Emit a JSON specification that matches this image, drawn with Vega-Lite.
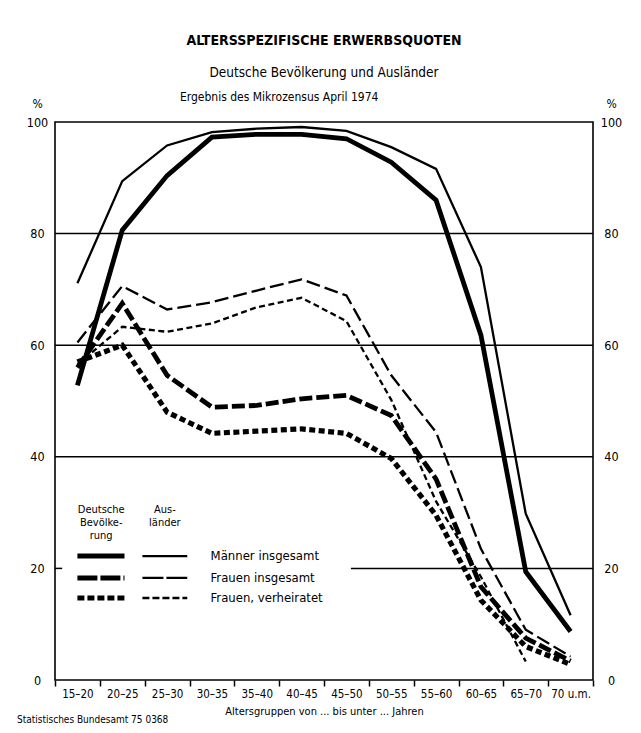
{
  "$schema": "https://vega.github.io/schema/vega-lite/v6.json",
  "autosize": "none",
  "padding": {"left": 55, "top": 122, "right": 48, "bottom": 53},
  "width": 538,
  "height": 558,
  "background": "white",
  "title": {
    "text": "ALTERSSPEZIFISCHE ERWERBSQUOTEN",
    "subtitle": "Deutsche Bevölkerung und Ausländer",
    "fontSize": 14,
    "fontWeight": "bold",
    "subtitleFontSize": 13.5,
    "subtitlePadding": 18,
    "subtitleColor": "black",
    "color": "black",
    "anchor": "middle",
    "frame": "group",
    "offset": 12
  },
  "config": {
    "font": "Liberation Sans Narrow, DejaVu Sans Condensed, sans-serif",
    "view": {"stroke": "black", "strokeWidth": 1.6},
    "axis": {"labelColor": "black", "titleColor": "black"},
    "text": {"color": "black"}
  },
  "datasets": {
    "curves": [
      {"group": "DM", "age": "15–20", "value": 52.8},
      {"group": "DM", "age": "20–25", "value": 80.6},
      {"group": "DM", "age": "25–30", "value": 90.4},
      {"group": "DM", "age": "30–35", "value": 97.3},
      {"group": "DM", "age": "35–40", "value": 97.8},
      {"group": "DM", "age": "40–45", "value": 97.8},
      {"group": "DM", "age": "45–50", "value": 97.0},
      {"group": "DM", "age": "50–55", "value": 92.8},
      {"group": "DM", "age": "55–60", "value": 86.0},
      {"group": "DM", "age": "60–65", "value": 61.8},
      {"group": "DM", "age": "65–70", "value": 19.4},
      {"group": "DM", "age": "70 u.m.", "value": 8.7},
      {"group": "AM", "age": "15–20", "value": 71.1},
      {"group": "AM", "age": "20–25", "value": 89.4},
      {"group": "AM", "age": "25–30", "value": 95.8},
      {"group": "AM", "age": "30–35", "value": 98.2},
      {"group": "AM", "age": "35–40", "value": 98.8},
      {"group": "AM", "age": "40–45", "value": 99.1},
      {"group": "AM", "age": "45–50", "value": 98.4},
      {"group": "AM", "age": "50–55", "value": 95.5},
      {"group": "AM", "age": "55–60", "value": 91.6},
      {"group": "AM", "age": "60–65", "value": 74.0},
      {"group": "AM", "age": "65–70", "value": 29.8},
      {"group": "AM", "age": "70 u.m.", "value": 11.6},
      {"group": "DFi", "age": "15–20", "value": 56.0},
      {"group": "DFi", "age": "20–25", "value": 67.5},
      {"group": "DFi", "age": "25–30", "value": 54.6},
      {"group": "DFi", "age": "30–35", "value": 48.9},
      {"group": "DFi", "age": "35–40", "value": 49.2},
      {"group": "DFi", "age": "40–45", "value": 50.4},
      {"group": "DFi", "age": "45–50", "value": 51.0},
      {"group": "DFi", "age": "50–55", "value": 47.4},
      {"group": "DFi", "age": "55–60", "value": 36.0},
      {"group": "DFi", "age": "60–65", "value": 16.7},
      {"group": "DFi", "age": "65–70", "value": 7.5},
      {"group": "DFi", "age": "70 u.m.", "value": 3.4},
      {"group": "AFi", "age": "15–20", "value": 60.5},
      {"group": "AFi", "age": "20–25", "value": 70.6},
      {"group": "AFi", "age": "25–30", "value": 66.4},
      {"group": "AFi", "age": "30–35", "value": 67.7},
      {"group": "AFi", "age": "35–40", "value": 69.8},
      {"group": "AFi", "age": "40–45", "value": 71.8},
      {"group": "AFi", "age": "45–50", "value": 68.9},
      {"group": "AFi", "age": "50–55", "value": 54.6},
      {"group": "AFi", "age": "55–60", "value": 44.4},
      {"group": "AFi", "age": "60–65", "value": 23.5},
      {"group": "AFi", "age": "65–70", "value": 9.0},
      {"group": "AFi", "age": "70 u.m.", "value": 4.2},
      {"group": "DFv", "age": "15–20", "value": 57.0},
      {"group": "DFv", "age": "20–25", "value": 60.0},
      {"group": "DFv", "age": "25–30", "value": 48.0},
      {"group": "DFv", "age": "30–35", "value": 44.2},
      {"group": "DFv", "age": "35–40", "value": 44.6},
      {"group": "DFv", "age": "40–45", "value": 45.0},
      {"group": "DFv", "age": "45–50", "value": 44.2},
      {"group": "DFv", "age": "50–55", "value": 39.7},
      {"group": "DFv", "age": "55–60", "value": 29.5},
      {"group": "DFv", "age": "60–65", "value": 14.3},
      {"group": "DFv", "age": "65–70", "value": 6.0},
      {"group": "DFv", "age": "70 u.m.", "value": 2.8},
      {"group": "AFv", "age": "15–20", "value": 56.5},
      {"group": "AFv", "age": "20–25", "value": 63.3},
      {"group": "AFv", "age": "25–30", "value": 62.4},
      {"group": "AFv", "age": "30–35", "value": 63.9},
      {"group": "AFv", "age": "35–40", "value": 66.8},
      {"group": "AFv", "age": "40–45", "value": 68.5},
      {"group": "AFv", "age": "45–50", "value": 64.3},
      {"group": "AFv", "age": "50–55", "value": 50.2},
      {"group": "AFv", "age": "55–60", "value": 32.0},
      {"group": "AFv", "age": "60–65", "value": 18.5},
      {"group": "AFv", "age": "65–70", "value": 3.3}
    ]
  },
  "resolve": {"axis": {"x": "independent", "y": "independent"}},
  "layer": [
    {
      "data": {"values": [{"v": 80}, {"v": 60}, {"v": 40}]},
      "mark": {"type": "rule", "color": "black", "strokeWidth": 1.5},
      "encoding": {
        "y": {
          "field": "v", "type": "quantitative",
          "scale": {"domain": [0, 100], "nice": false},
          "axis": {
            "orient": "left", "values": [0, 20, 40, 60, 80, 100],
            "ticks": false, "domain": false, "grid": false,
            "labelAlign": "center", "labelPadding": 18, "labelFontSize": 12.5,
            "title": "%", "titleAngle": 0, "titleX": -18, "titleY": -19,
            "titleAlign": "center", "titleBaseline": "middle",
            "titleFontWeight": "normal", "titleFontSize": 12
          }
        }
      }
    },
    {
      "data": {"values": [{"v": 20, "a": "45–50", "b": "70 u.m."}]},
      "mark": {"type": "rule", "color": "black", "strokeWidth": 1.5},
      "encoding": {
        "x": {"field": "a", "type": "nominal", "bandPosition": 0.6,
              "scale": {"type": "band", "domain": ["15–20","20–25","25–30","30–35","35–40","40–45","45–50","50–55","55–60","60–65","65–70","70 u.m."], "paddingInner": 0, "paddingOuter": 0},
              "axis": null},
        "x2": {"field": "b", "bandPosition": 1},
        "y": {
          "field": "v", "type": "quantitative",
          "axis": {
            "orient": "right", "values": [0, 20, 40, 60, 80, 100],
            "ticks": false, "domain": false, "grid": false,
            "labelAlign": "center", "labelPadding": 18, "labelFontSize": 12.5,
            "title": "%", "titleAngle": 0, "titleX": 18, "titleY": -19,
            "titleAlign": "center", "titleBaseline": "middle",
            "titleFontWeight": "normal", "titleFontSize": 12
          }
        }
      }
    },
    {
      "data": {"values": [{"v": 20, "a": "15–20", "b": "15–20"}]},
      "mark": {"type": "rule", "color": "black", "strokeWidth": 1.5},
      "encoding": {
        "x": {"field": "a", "type": "nominal", "bandPosition": 0, "axis": null},
        "x2": {"field": "b", "bandPosition": 0.16},
        "y": {"field": "v", "type": "quantitative", "axis": null}
      }
    },
    {
      "data": {"name": "curves"},
      "transform": [{"filter": "datum.group === 'DM'"}],
      "mark": {"type": "line", "color": "black", "strokeWidth": 4.8},
      "encoding": {
        "x": {"field": "age", "type": "nominal", "bandPosition": 0.5,
              "axis": {
                "orient": "bottom", "tickBand": "extent", "tickSize": 6, "tickWidth": 1.5,
                "tickColor": "black", "domain": false, "labelAngle": 0,
                "labelFontSize": 11.5, "labelPadding": 2,
                "title": "Altersgruppen von ... bis unter ... Jahren",
                "titleFontSize": 11, "titleFontWeight": "normal", "titlePadding": 6
              }},
        "y": {"field": "value", "type": "quantitative", "axis": null}
      }
    },
    {
      "data": {"name": "curves"},
      "transform": [{"filter": "datum.group === 'DFi'"}],
      "mark": {"type": "line", "color": "black", "strokeWidth": 4.8, "strokeDash": [13, 4], "strokeCap": "butt"},
      "encoding": {
        "x": {"field": "age", "type": "nominal", "bandPosition": 0.5, "axis": null},
        "y": {"field": "value", "type": "quantitative", "axis": null}
      }
    },
    {
      "data": {"name": "curves"},
      "transform": [{"filter": "datum.group === 'DFv'"}],
      "mark": {"type": "line", "color": "black", "strokeWidth": 5.2, "strokeDash": [6, 3.5], "strokeCap": "butt"},
      "encoding": {
        "x": {"field": "age", "type": "nominal", "bandPosition": 0.5, "axis": null},
        "y": {"field": "value", "type": "quantitative", "axis": null}
      }
    },
    {
      "data": {"name": "curves"},
      "transform": [{"filter": "datum.group === 'AM'"}],
      "mark": {"type": "line", "color": "black", "strokeWidth": 2.3},
      "encoding": {
        "x": {"field": "age", "type": "nominal", "bandPosition": 0.5, "axis": null},
        "y": {"field": "value", "type": "quantitative", "axis": null}
      }
    },
    {
      "data": {"name": "curves"},
      "transform": [{"filter": "datum.group === 'AFi'"}],
      "mark": {"type": "line", "color": "black", "strokeWidth": 2.3, "strokeDash": [14, 5], "strokeCap": "butt"},
      "encoding": {
        "x": {"field": "age", "type": "nominal", "bandPosition": 0.5, "axis": null},
        "y": {"field": "value", "type": "quantitative", "axis": null}
      }
    },
    {
      "data": {"name": "curves"},
      "transform": [{"filter": "datum.group === 'AFv'"}],
      "mark": {"type": "line", "color": "black", "strokeWidth": 2.3, "strokeDash": [6, 3.5], "strokeCap": "butt"},
      "encoding": {
        "x": {"field": "age", "type": "nominal", "bandPosition": 0.5, "axis": null},
        "y": {"field": "value", "type": "quantitative", "axis": null}
      }
    },
    {
      "data": {"values": [{"v": 22.2, "a": "15–20", "b": "20–25"}]},
      "mark": {"type": "rule", "color": "black", "strokeWidth": 5},
      "encoding": {
        "x": {"field": "a", "type": "nominal", "bandPosition": 0.5, "axis": null},
        "x2": {"field": "b", "bandPosition": 0.55},
        "y": {"field": "v", "type": "quantitative", "axis": null}
      }
    },
    {
      "data": {"values": [{"v": 18.3, "a": "15–20", "b": "20–25"}]},
      "mark": {"type": "rule", "color": "black", "strokeWidth": 5, "strokeDash": [20, 3], "strokeCap": "butt"},
      "encoding": {
        "x": {"field": "a", "type": "nominal", "bandPosition": 0.5, "axis": null},
        "x2": {"field": "b", "bandPosition": 0.55},
        "y": {"field": "v", "type": "quantitative", "axis": null}
      }
    },
    {
      "data": {"values": [{"v": 14.7, "a": "15–20", "b": "20–25"}]},
      "mark": {"type": "rule", "color": "black", "strokeWidth": 5, "strokeDash": [7, 3], "strokeCap": "butt"},
      "encoding": {
        "x": {"field": "a", "type": "nominal", "bandPosition": 0.5, "axis": null},
        "x2": {"field": "b", "bandPosition": 0.55},
        "y": {"field": "v", "type": "quantitative", "axis": null}
      }
    },
    {
      "data": {"values": [{"v": 22.2, "a": "25–30", "b": "25–30"}]},
      "mark": {"type": "rule", "color": "black", "strokeWidth": 2.4},
      "encoding": {
        "x": {"field": "a", "type": "nominal", "bandPosition": -0.05, "axis": null},
        "x2": {"field": "b", "bandPosition": 0.95},
        "y": {"field": "v", "type": "quantitative", "axis": null}
      }
    },
    {
      "data": {"values": [{"v": 18.3, "a": "25–30", "b": "25–30"}]},
      "mark": {"type": "rule", "color": "black", "strokeWidth": 2.4, "strokeDash": [21, 3], "strokeCap": "butt"},
      "encoding": {
        "x": {"field": "a", "type": "nominal", "bandPosition": -0.05, "axis": null},
        "x2": {"field": "b", "bandPosition": 0.95},
        "y": {"field": "v", "type": "quantitative", "axis": null}
      }
    },
    {
      "data": {"values": [{"v": 14.7, "a": "25–30", "b": "25–30"}]},
      "mark": {"type": "rule", "color": "black", "strokeWidth": 2.4, "strokeDash": [7, 3], "strokeCap": "butt"},
      "encoding": {
        "x": {"field": "a", "type": "nominal", "bandPosition": -0.05, "axis": null},
        "x2": {"field": "b", "bandPosition": 0.95},
        "y": {"field": "v", "type": "quantitative", "axis": null}
      }
    },
    {
      "data": {"values": [
        {"t": "Männer insgesamt", "v": 22.2, "a": "30–35"},
        {"t": "Frauen insgesamt", "v": 18.3, "a": "30–35"},
        {"t": "Frauen, verheiratet", "v": 14.7, "a": "30–35"}
      ]},
      "mark": {"type": "text", "align": "left", "baseline": "middle", "fontSize": 13},
      "encoding": {
        "x": {"field": "a", "type": "nominal", "bandPosition": 0.47, "axis": null},
        "y": {"field": "v", "type": "quantitative", "axis": null},
        "text": {"field": "t"}
      }
    },
    {
      "data": {"values": [
        {"t": "Deutsche", "v": 30.4, "a": "20–25"},
        {"t": "Bevölke-", "v": 28.1, "a": "20–25"},
        {"t": "rung", "v": 25.8, "a": "20–25"}
      ]},
      "mark": {"type": "text", "align": "center", "baseline": "middle", "fontSize": 11},
      "encoding": {
        "x": {"field": "a", "type": "nominal", "bandPosition": 0.03, "axis": null},
        "y": {"field": "v", "type": "quantitative", "axis": null},
        "text": {"field": "t"}
      }
    },
    {
      "data": {"values": [
        {"t": "Aus-", "v": 30.4, "a": "25–30"},
        {"t": "länder", "v": 28.1, "a": "25–30"}
      ]},
      "mark": {"type": "text", "align": "center", "baseline": "middle", "fontSize": 11},
      "encoding": {
        "x": {"field": "a", "type": "nominal", "bandPosition": 0.45, "axis": null},
        "y": {"field": "v", "type": "quantitative", "axis": null},
        "text": {"field": "t"}
      }
    },
    {
      "data": {"values": [{"t": "Ergebnis des Mikrozensus April 1974", "v": 104.4, "a": "40–45"}]},
      "mark": {"type": "text", "align": "center", "baseline": "middle", "fontSize": 12},
      "encoding": {
        "x": {"field": "a", "type": "nominal", "bandPosition": 0, "axis": null},
        "y": {"field": "v", "type": "quantitative", "axis": null},
        "text": {"field": "t"}
      }
    },
    {
      "data": {"values": [{"t": "Statistisches Bundesamt 75 0368", "v": -7.2, "a": "15–20"}]},
      "mark": {"type": "text", "align": "center", "baseline": "middle", "fontSize": 10},
      "encoding": {
        "x": {"field": "a", "type": "nominal", "bandPosition": 0.84, "axis": null},
        "y": {"field": "v", "type": "quantitative", "axis": null},
        "text": {"field": "t"}
      }
    }
  ]
}
